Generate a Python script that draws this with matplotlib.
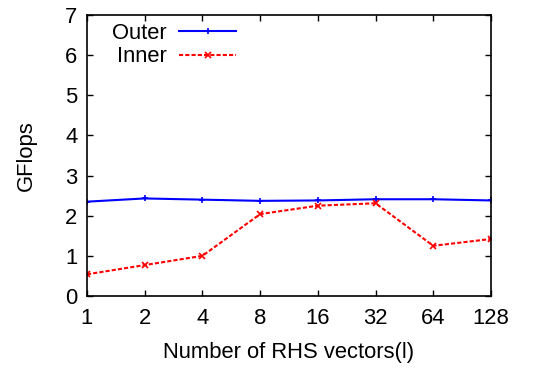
import matplotlib
matplotlib.use("Agg")
import matplotlib.pyplot as plt

plt.rcParams['font.family'] = ['Liberation Sans', 'DejaVu Sans']

rhs = ["1", "2", "4", "8", "16", "32", "64", "128"]
outer = [2.35, 2.43, 2.40, 2.37, 2.38, 2.41, 2.41, 2.38]
inner = [0.54, 0.77, 1.00, 2.04, 2.25, 2.31, 1.25, 1.42]

FS = 15.8

fig = plt.figure(figsize=(5.41, 3.68), dpi=100)
ax = fig.add_axes([0.1608, 0.1957, 0.9076 - 0.1608, 0.9592 - 0.1957])

xs = list(range(len(rhs)))
ax.plot(xs, outer, color='#0000ff', lw=1.5, marker='+', ms=5, mew=1.2, label='Outer')
ax.plot(xs, inner, color='#ff0000', lw=1.5, ls=(0, (2, 1)), marker='x', ms=4, mew=1.2, label='Inner')

ax.set_xlim(0, len(rhs) - 1)
ax.set_ylim(0, 7)
ax.set_xticks(xs)
ax.set_xticklabels(rhs)
ax.set_yticks(range(0, 8))
ax.tick_params(direction='in', length=4, width=1, top=True, right=True, labelsize=FS)
ax.tick_params(axis='x', pad=9)
ax.tick_params(axis='y', pad=7)
for s in ax.spines.values():
    s.set_linewidth(1.2)

ax.set_xlabel('Number of RHS vectors(l)', fontsize=FS, labelpad=9)
ax.set_ylabel('GFlops', fontsize=FS, labelpad=20)

leg = ax.legend(loc='upper left', bbox_to_anchor=(0.03, 1.02), frameon=False, fontsize=FS,
                markerfirst=False, handlelength=2.6, handletextpad=0.55, labelspacing=0.12,
                borderaxespad=0.2)
for t in leg.get_texts():
    t.set_ha('right')
leg._legend_box.align = 'right'

fig.savefig('out.png', dpi=100)
